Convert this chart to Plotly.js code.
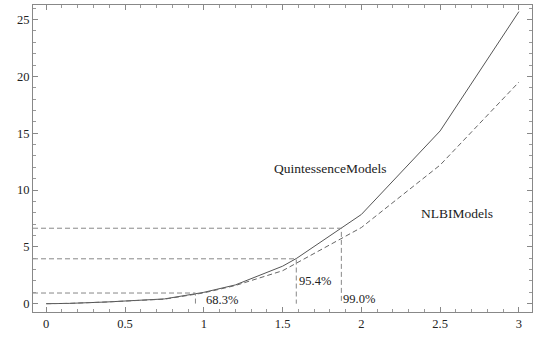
<!DOCTYPE html>
<html>
<head>
<meta charset="utf-8">
<script src="https://cdn.plot.ly/plotly-3.0.1.min.js"></script>
<style>
  body { margin: 0; background: #fff; }
  #chart { width: 545px; height: 340px; }
</style>
</head>
<body>
<div id="chart"></div>
<script>
// curve values
let quintX = [0, 0.15, 0.38, 0.75, 1.0, 1.2, 1.5, 1.59, 2.0, 2.5, 3.0];
let quintY = [0, 0.03, 0.15, 0.42, 1.0, 1.65, 3.3, 4.0, 7.85, 15.2, 25.7];

let nlbiX = [0, 0.15, 0.38, 0.75, 1.0, 1.2, 1.5, 2.0, 2.5, 3.0];
let nlbiY = [0, 0.03, 0.15, 0.4, 0.95, 1.6, 2.9, 6.7, 12.2, 19.5];

// confidence levels: chi2 level and where it meets the curve
let confLabels = ['68.3%', '95.4%', '99.0%'];
let confLevels = [0.94, 3.95, 6.64];
let confCuts = [0.947, 1.587, 1.873];

let xMin = -0.084, xMax = 3.083;
let yMin = -0.73, yMax = 26.28;

let serif = 'Times New Roman, Liberation Serif, DejaVu Serif, serif';

let traces = [
  {
    x: quintX, y: quintY, mode: 'lines', type: 'scatter',
    line: { color: '#555', width: 1 }, hoverinfo: 'skip'
  },
  {
    x: nlbiX, y: nlbiY, mode: 'lines', type: 'scatter',
    line: { color: '#666', width: 1, dash: '5px,3px' }, hoverinfo: 'skip'
  }
];

// horizontal + vertical dashed guides for each level
confLevels.forEach((lev, i) => {
  traces.push({
    x: [xMin, confCuts[i], confCuts[i]],
    y: [lev, lev, 0],
    mode: 'lines', type: 'scatter',
    line: { color: '#888', width: 1, dash: '5px,3px' }, hoverinfo: 'skip'
  });
});

let labelPos = [
  { x: 0.999, y: 0.35 },
  { x: 1.594, y: 1.96 },
  { x: 1.869, y: 0.44 }
];

let annotations = confLabels.map((t, i) => ({
  x: labelPos[i].x, y: labelPos[i].y, text: t, showarrow: false,
  xanchor: 'left', yanchor: 'middle', font: { family: serif, size: 12.5, color: '#222' }
}));
annotations.push({
  x: 1.799, y: 11.9, text: 'QuintessenceModels', showarrow: false,
  xanchor: 'center', yanchor: 'middle', font: { family: serif, size: 13.5, color: '#222' }
});
annotations.push({
  x: 2.61, y: 7.96, text: 'NLBIModels', showarrow: false,
  xanchor: 'center', yanchor: 'middle', font: { family: serif, size: 13.5, color: '#222' }
});

let axisCommon = {
  showgrid: false, zeroline: false,
  showline: true, linecolor: '#888', linewidth: 1, mirror: 'allticks',
  ticks: 'inside', ticklen: 5, tickcolor: '#888', tickwidth: 1,
  tickfont: { family: serif, size: 12.5, color: '#222' }
};

let layout = {
  width: 545, height: 340,
  margin: { l: 33, r: 13, t: 5, b: 28 },
  showlegend: false,
  font: { family: serif },
  paper_bgcolor: '#fff', plot_bgcolor: '#fff',
  xaxis: Object.assign({}, axisCommon, {
    range: [xMin, xMax], tick0: 0, dtick: 0.5,
    minor: { dtick: 0.1, ticks: 'inside', ticklen: 3, tickcolor: '#999', showgrid: false }
  }),
  yaxis: Object.assign({}, axisCommon, {
    range: [yMin, yMax], tick0: 0, dtick: 5,
    minor: { dtick: 1, ticks: 'inside', ticklen: 3, tickcolor: '#999', showgrid: false }
  }),
  annotations: annotations
};

Plotly.newPlot('chart', traces, layout, { staticPlot: true });
</script>
</body>
</html>
